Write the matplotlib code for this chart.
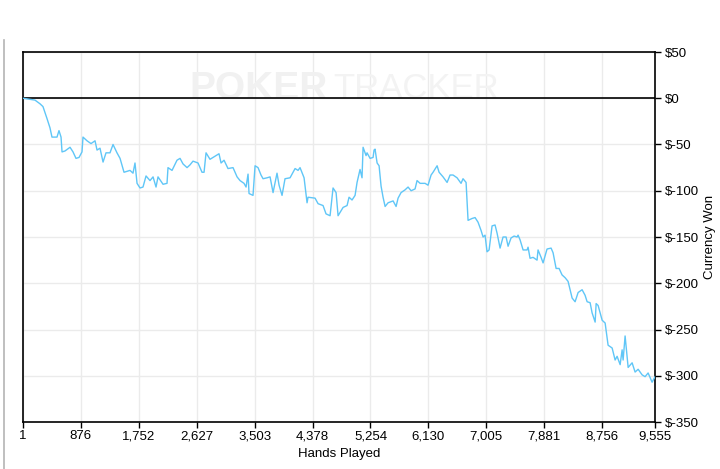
import matplotlib
matplotlib.use("Agg")
import matplotlib.pyplot as plt
from matplotlib.lines import Line2D

hands = [1, 182, 258, 303, 364, 409, 439, 515, 545, 576, 591, 636, 712, 757, 802, 848, 893, 908,
         969, 1029, 1090, 1120, 1165, 1211, 1256, 1316, 1362, 1422, 1468, 1528, 1619, 1664, 1694,
         1725, 1770, 1815, 1861, 1921, 1967, 2012, 2042, 2118, 2178, 2193, 2254, 2329, 2375, 2420,
         2481, 2526, 2571, 2647, 2707, 2738, 2768, 2828, 2874, 2964, 2995, 3040, 3100, 3176, 3237,
         3282, 3342, 3373, 3403, 3418, 3478, 3509, 3554, 3599, 3630, 3690, 3736, 3781, 3841, 3872,
         3917, 3962, 4038, 4114, 4159, 4189, 4250, 4295, 4310, 4416, 4462, 4537, 4582, 4643, 4688,
         4734, 4764, 4840, 4900, 4930, 4975, 5021, 5051, 5096, 5126, 5142, 5187, 5202, 5248, 5293,
         5308, 5323, 5354, 5384, 5414, 5444, 5475, 5520, 5596, 5641, 5671, 5716, 5777, 5822, 5868,
         5928, 5958, 6004, 6079, 6124, 6170, 6200, 6261, 6291, 6351, 6412, 6457, 6502, 6563, 6623,
         6653, 6699, 6729, 6789, 6835, 6880, 6926, 6956, 6986, 7016, 7047, 7092, 7137, 7168, 7213,
         7258, 7304, 7334, 7379, 7425, 7470, 7485, 7515, 7561, 7621, 7636, 7666, 7712, 7772, 7787,
         7833, 7863, 7923, 7984, 8014, 8060, 8105, 8150, 8196, 8241, 8302, 8347, 8393, 8453, 8498,
         8529, 8574, 8604, 8650, 8665, 8695, 8756, 8801, 8846, 8907, 8952, 8982, 9028, 9058, 9073,
         9103, 9149, 9209, 9254, 9300, 9360, 9405, 9451, 9511, 9555]
won = [0, -2, -6, -9, -22, -32, -42, -42, -35, -42, -58, -57, -53, -58, -65, -64, -58, -42,
       -46, -49, -46, -56, -54, -69, -59, -59, -50, -59, -65, -80, -78, -81, -70,
       -92, -97, -96, -84, -89, -85, -96, -85, -93, -92, -75, -78, -67, -65, -71,
       -75, -72, -68, -70, -80, -80, -59, -66, -64, -60, -70, -67, -76, -75, -85,
       -89, -92, -96, -82, -103, -105, -73, -75, -83, -87, -86, -85, -102, -81, -94,
       -105, -87, -86, -76, -78, -75, -86, -113, -107, -108, -114, -116, -125, -127, -97,
       -102, -127, -118, -116, -107, -110, -105, -91, -77, -86, -53, -62, -59, -65, -64,
       -56, -55, -70, -73, -95, -107, -117, -113, -111, -117, -108, -102, -99, -96, -100,
       -98, -89, -92, -92, -94, -83, -80, -73, -80, -85, -91, -83, -83, -86, -92,
       -87, -91, -132, -130, -129, -134, -143, -150, -148, -166, -164, -138, -137, -146, -162,
       -150, -150, -160, -151, -149, -150, -148, -153, -164, -164, -161, -173, -172, -175, -164,
       -172, -178, -163, -162, -167, -184, -184, -191, -194, -198, -216, -220, -210, -207, -213,
       -220, -221, -232, -242, -222, -224, -240, -243, -267, -270, -283, -279, -288, -272, -283,
       -257, -291, -286, -296, -293, -299, -301, -297, -307, -301]

x_ticks = [1, 876, 1752, 2627, 3503, 4378, 5254, 6130, 7005, 7881, 8756, 9555]
x_labels = ["1", "876", "1,752", "2,627", "3,503", "4,378", "5,254", "6,130", "7,005",
            "7,881", "8,756", "9,555"]
y_ticks = [50, 0, -50, -100, -150, -200, -250, -300, -350]
y_labels = ["$50", "$0", "$-50", "$-100", "$-150", "$-200", "$-250", "$-300", "$-350"]

plt.rcParams['font.family'] = ['Liberation Sans', 'DejaVu Sans']

fig = plt.figure(figsize=(7.2, 4.69), dpi=100)
ax = fig.add_axes([23/720, 1-422/469, 632/720, 370/469])

# watermark (behind the data)
ax.text(328/720, 1-89/469, "POKER", ha='right', va='center', fontsize=28,
        fontweight='bold', color='#f1f1f1', transform=fig.transFigure, zorder=1)
ax.text(333/720, 1-89/469, "TRACKER", ha='left', va='center', fontsize=25,
        color='#f3f3f3', transform=fig.transFigure, zorder=1)

ax.plot(hands, won, color='#5fc6f7', lw=1.0, zorder=3)
ax.axhline(0, color='black', lw=1.2, zorder=2)

ax.set_xlim(1, 9555)
ax.set_ylim(-350, 50)
ax.set_xticks(x_ticks)
ax.set_xticklabels(x_labels)
ax.set_yticks(y_ticks)
ax.set_yticklabels(y_labels)
ax.yaxis.tick_right()
ax.yaxis.set_label_position('right')
ax.grid(True, color='#ebebeb', lw=1.0, zorder=0)
ax.set_axisbelow(True)
ax.tick_params(axis='both', direction='out', length=4, width=1, labelsize=9.5, colors='black')
ax.tick_params(axis='x', pad=2)
ax.tick_params(axis='y', pad=3)
for s in ax.spines.values():
    s.set_color('black')
    s.set_linewidth(1.2)
ax.set_xlabel("Hands Played", fontsize=9.5, labelpad=4)
ax.set_ylabel("Currency Won", fontsize=9.5, labelpad=4)

# window frame line on the left
fig.add_artist(Line2D([3.5/720, 3.5/720], [0, 1-40/469], transform=fig.transFigure,
                      color='#b4b4b4', lw=1.2))

fig.savefig("out.png", dpi=100, facecolor='white')
